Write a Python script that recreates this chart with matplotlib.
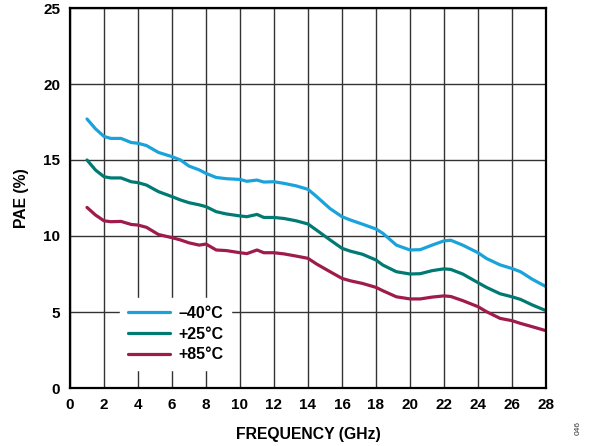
import matplotlib.pyplot as plt

plt.rcParams["font.family"] = ["Liberation Sans", "DejaVu Sans"]

# Frequency (GHz) and PAE (%)
freq = [1, 1.5, 2, 2.4, 3, 3.6, 4, 4.5, 5.2, 6, 6.5, 7, 7.6, 8, 8.6, 9.2,
        10, 10.4, 11, 11.4, 12, 12.6, 13.3, 14, 14.5, 15.3, 16, 16.5, 17.2,
        18, 18.4, 19.2, 20, 20.6, 21.3, 22, 22.4, 23.1, 24, 24.5, 25.3, 26,
        26.5, 27.2, 28]

pae_m40 = [17.7, 17.05, 16.55, 16.42, 16.42, 16.15, 16.1, 15.95, 15.5, 15.22,
           15.0, 14.6, 14.35, 14.12, 13.85, 13.77, 13.72, 13.6, 13.68, 13.55,
           13.57, 13.46, 13.3, 13.07, 12.6, 11.8, 11.27, 11.05, 10.78, 10.46,
           10.18, 9.4, 9.08, 9.1, 9.4, 9.68, 9.72, 9.4, 8.9, 8.52, 8.1, 7.86,
           7.65, 7.15, 6.67]

pae_p25 = [15.0, 14.34, 13.9, 13.82, 13.82, 13.57, 13.51, 13.35, 12.92, 12.59,
           12.37, 12.19, 12.05, 11.93, 11.6, 11.45, 11.32, 11.27, 11.42, 11.22,
           11.22, 11.15, 11.0, 10.79, 10.39, 9.74, 9.19, 9.0, 8.8, 8.42, 8.09,
           7.65, 7.5, 7.52, 7.72, 7.84, 7.8, 7.5, 6.93, 6.62, 6.2, 6.0, 5.83,
           5.46, 5.09]

pae_p85 = [11.88, 11.38, 11.0, 10.94, 10.96, 10.76, 10.72, 10.57, 10.1, 9.89,
           9.74, 9.55, 9.4, 9.47, 9.08, 9.04, 8.9, 8.84, 9.08, 8.9, 8.9, 8.82,
           8.68, 8.53, 8.16, 7.65, 7.21, 7.05, 6.88, 6.62, 6.4, 6.0, 5.86, 5.86,
           5.98, 6.06, 6.02, 5.75, 5.35, 5.02, 4.58, 4.43, 4.25, 4.03, 3.77]

labels = ["\u201340\u00b0C", "+25\u00b0C", "+85\u00b0C"]
colors = ["#1aa3da", "#007a73", "#9e1b4b"]

fig = plt.figure(figsize=(5.89, 4.46), dpi=100)
ax = fig.add_axes([70 / 589, 1 - 388 / 446, 476 / 589, 380 / 446])

for y, lab, c in zip([pae_m40, pae_p25, pae_p85], labels, colors):
    ax.plot(freq, y, color=c, lw=2.3, label=lab, solid_capstyle="round")

ax.set_xlim(0, 28)
ax.set_ylim(0, 25)
ax.set_xticks(range(0, 29, 2))
ax.set_yticks(range(0, 26, 5))
ax.grid(True, color="#333333", lw=1.0)
ax.set_axisbelow(True)
ax.tick_params(length=0, labelsize=11, pad=7)
for t in ax.get_xticklabels() + ax.get_yticklabels():
    t.set_fontweight("bold")
for s in ax.spines.values():
    s.set_linewidth(1.6)
    s.set_color("black")

ax.set_xlabel("FREQUENCY (GHz)", fontsize=11.3, fontweight="bold", labelpad=11)
ax.set_ylabel("PAE (%)", fontsize=11.3, fontweight="bold", labelpad=10)

leg = ax.legend(loc="upper left", bbox_to_anchor=(50 / 476, 90 / 380),
                borderaxespad=0, frameon=True, fancybox=False, framealpha=1,
                edgecolor="white", facecolor="white", fontsize=11.5,
                handlelength=2.6, handletextpad=0.55, labelspacing=0.35,
                borderpad=0.5)
for t in leg.get_texts():
    t.set_fontweight("bold")

fig.text(578 / 589, 1 - 428 / 446, "046", rotation=90, fontsize=6,
         ha="center", va="center", color="#333333")

fig.savefig("out.png", dpi=100)
